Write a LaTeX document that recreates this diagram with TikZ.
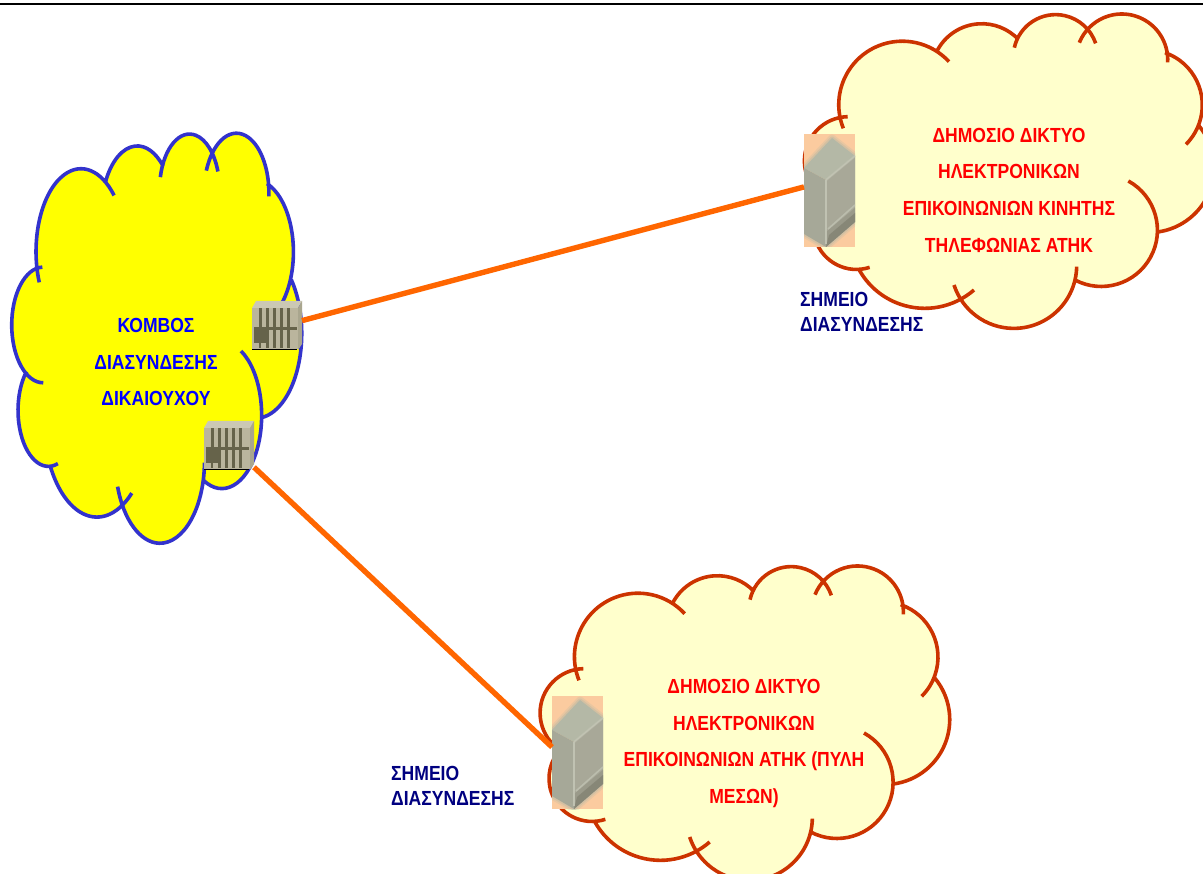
\documentclass[tikz,border=0pt]{standalone}
\usepackage{fontspec}
\setmainfont{Liberation Sans}
\newfontfamily\cloudfont[FakeStretch=0.86,Scale=1.0]{Liberation Sans}
\definecolor{blueedge}{HTML}{3333CC}
\definecolor{rededge}{HTML}{CC3300}
\definecolor{fullyellow}{HTML}{FFFF00}
\definecolor{textblue}{HTML}{0000FF}
\definecolor{textred}{HTML}{FF0000}
\definecolor{paleyellow}{HTML}{FFFFCC}
\definecolor{linkorange}{HTML}{FF6600}
\definecolor{labelnavy}{HTML}{000080}
\definecolor{srvbody}{HTML}{BAB59D}
\definecolor{srvdark}{HTML}{66634A}
\definecolor{srvtop}{HTML}{CBC8B4}
\definecolor{srvside}{HTML}{A9A68E}
\definecolor{peach}{HTML}{FBCB9F}
\definecolor{cabtop}{HTML}{B4B8A6}
\definecolor{cableft}{HTML}{A6A898}
\definecolor{cabright}{HTML}{A8A898}
\definecolor{cabdark}{HTML}{808070}
\definecolor{cabedge}{HTML}{C4C6B6}
\tikzset{
  srvbox/.style={minimum width=50pt,minimum height=49pt,inner sep=0pt,outer sep=0pt},
  bigbox/.style={minimum width=51pt,minimum height=113pt,inner sep=0pt,outer sep=0pt,fill=peach},
  link/.style={draw=linkorange,line width=5.4pt},
  cloudtext/.style={align=center,font=\cloudfont\bfseries\fontsize{20.4}{36.7}\selectfont,inner sep=0pt},
  pointlabel/.style={align=left,anchor=north west,text=labelnavy,inner sep=0pt,font=\cloudfont\bfseries\fontsize{20.4}{25}\selectfont},
}
% one lobe of the cloud: the circular arc through start, middle and end point
\newcommand\makelobe[7]{%
  \pgfmathsetmacro\lbbx{(#4-#2)/100}%
  \pgfmathsetmacro\lbby{(#5-#3)/100}%
  \pgfmathsetmacro\lbcx{(#6-#2)/100}%
  \pgfmathsetmacro\lbcy{(#7-#3)/100}%
  \pgfmathsetmacro\lbbb{\lbbx*\lbbx+\lbby*\lbby}%
  \pgfmathsetmacro\lbcc{\lbcx*\lbcx+\lbcy*\lbcy}%
  \pgfmathsetmacro\lbdd{2*(\lbbx*\lbcy-\lbby*\lbcx)}%
  \pgfmathsetmacro\lbux{(\lbcy*\lbbb-\lbby*\lbcc)/\lbdd}%
  \pgfmathsetmacro\lbuy{(\lbbx*\lbcc-\lbcx*\lbbb)/\lbdd}%
  \pgfmathsetmacro\lbrr{100*sqrt(\lbux*\lbux+\lbuy*\lbuy)}%
  \pgfmathsetmacro\lbsa{atan2(-\lbuy,-\lbux)}%
  \pgfmathsetmacro\lbea{atan2(\lbcy-\lbuy,\lbcx-\lbux)}%
  \pgfmathsetmacro\lbda{mod(\lbea-\lbsa+720,360)}%
  \expandafter\edef\csname lobeS#1\endcsname{(#2,#3) arc[start angle=\lbsa,delta angle=\lbda,radius=\lbrr]}%
  \expandafter\edef\csname lobeF#1\endcsname{-- (#2,#3) arc[start angle=\lbsa,delta angle=\lbda,radius=\lbrr]}}
\makelobe{A}{190}{385}{270}{150}{507}{185}
\makelobe{B}{470}{155}{590}{72}{715}{118}
\makelobe{C}{703}{143}{810}{45}{947}{130}
\makelobe{D}{898}{128}{1030}{42}{1163}{187}
\makelobe{E}{1155}{158}{1265}{290}{1218}{433}
\makelobe{F}{1258}{379}{1301}{524}{1133}{696}
\makelobe{G}{1045}{543}{1100}{790}{885}{840}
\makelobe{H}{890}{800}{710}{985}{522}{855}
\makelobe{I}{582}{870}{430}{925}{235}{805}
\makelobe{J}{269}{802}{108}{724}{136}{590}
\makelobe{K}{207}{616}{76}{510}{203}{350}
\newcommand\drawcloud[2]{%
  \fill[#1] (190,385) \lobeFA \lobeFB \lobeFC \lobeFD \lobeFE \lobeFF \lobeFG \lobeFH \lobeFI \lobeFJ \lobeFK -- cycle;
  \draw[#2,line cap=butt,line join=round] \lobeSA \lobeSB \lobeSC \lobeSD \lobeSE \lobeSF \lobeSG \lobeSH \lobeSI \lobeSJ \lobeSK;}
% small rack icon: #1 name, #2 centre x, #3 centre y
\newcommand\smallsrv[3]{%
  \node[srvbox] (#1) at (#2,#3) {};
  \begin{scope}[shift={(#2-25,#3-24.5)},x=1pt,y=-1pt]
    \fill[srvbody] (0,7) rectangle (46,48);
    \fill[srvtop] (0,7) -- (4,0) -- (50,0) -- (46,7) -- cycle;
    \fill[srvside] (46,7) -- (50,0) -- (50,43) -- (46,49) -- cycle;
    \foreach \sx in {7,14,21,28,35}{\fill[srvdark] (\sx,7) rectangle (\sx+3.4,47);}
    \fill[srvdark] (2,26) rectangle (45,29);
    \fill[srvdark] (2,29) rectangle (17,42);
    \fill[srvbody] (9,42) rectangle (13,47);
    \draw[black,line width=1pt] (0,48.3) -- (45,48.3);
  \end{scope}}
% large blurred cabinet: #1 name, #2 centre x, #3 centre y
\newcommand\bigsrv[3]{%
  \node[bigbox] (#1) at (#2,#3) {};
  \begin{scope}
    \clip (#1.south west) rectangle (#1.north east);
    \begin{scope}[shift={(#1.north west)},x=1pt,y=-1pt,line join=round]
      \draw[cabtop,line width=7pt,opacity=.25] (0,34) -- (28,4) -- (51,22) -- (51,88) -- (22,113) -- (0,100) -- cycle;
      \draw[cabtop,line width=3.5pt,opacity=.4] (0,34) -- (28,4) -- (51,22) -- (51,88) -- (22,113) -- (0,100) -- cycle;
      \fill[cabtop] (0,34) -- (28,4) -- (51,22) -- (22,46) -- cycle;
      \fill[cableft] (0,34) -- (22,46) -- (22,113) -- (0,100) -- cycle;
      \fill[cabright] (22,46) -- (51,22) -- (51,88) -- (22,113) -- cycle;
      \fill[cabdark,opacity=.35] (22,98) -- (51,74) -- (51,88) -- (22,113) -- cycle;
      \fill[cabdark,opacity=.7] (25,101) -- (51,79) -- (51,88) -- (22,113) -- cycle;
      \draw[cabedge,line width=2.4pt,opacity=.45] (22,46) -- (22,110);
      \draw[cabedge,line width=1.1pt,opacity=.8] (22,46) -- (22,110);
      \draw[cabedge,line width=2.4pt,opacity=.45] (22,46) -- (51,22);
      \draw[cabedge,line width=1.1pt,opacity=.8] (22,46) -- (51,22);
      \draw[cabedge,line width=1.6pt,opacity=.7] (24,95) -- (51,71);
    \end{scope}
  \end{scope}}
\begin{document}
\begin{tikzpicture}[x=1pt,y=-1pt]
\useasboundingbox (0,0) rectangle (1203,874);
\clip (0,0) rectangle (1203,874);
\fill[white] (0,0) rectangle (1203,874);
\coordinate (ruleL) at (0,3.8);
\coordinate (ruleR) at (1203,3.8);
\draw[black,line width=1.9pt] (ruleL) -- (ruleR);
\begin{scope}[shift={(-5.57,115)},x=0.236pt,y=-0.4347pt]
  \drawcloud{fullyellow}{blueedge,line width=3.6pt}
\end{scope}
\begin{scope}[shift={(780,0)},x=0.33333pt,y=-0.33333pt]
  \drawcloud{paleyellow}{rededge,line width=3.6pt}
\end{scope}
\begin{scope}[shift={(515.67,552)},x=0.33333pt,y=-0.33333pt]
  \drawcloud{paleyellow}{rededge,line width=3.6pt}
\end{scope}
\smallsrv{srvA}{277}{325.5}
\smallsrv{srvB}{229}{445.5}
\bigsrv{cabR}{829.5}{190.5}
\bigsrv{cabB}{577.5}{752.5}
\draw[link] (srvA.11) -- (cabR.172);
\draw[link] (srvB.-41) -- (cabB.168);
\node[cloudtext,text=textblue] (tL) at (156,362) {ΚΟΜΒΟΣ\\ΔΙΑΣΥΝΔΕΣΗΣ\\ΔΙΚΑΙΟΥΧΟΥ};
\node[cloudtext,text=textred] (tR) at (1009,190) {ΔΗΜΟΣΙΟ ΔΙΚΤΥΟ\\ΗΛΕΚΤΡΟΝΙΚΩΝ\\ΕΠΙΚΟΙΝΩΝΙΩΝ ΚΙΝΗΤΗΣ\\ΤΗΛΕΦΩΝΙΑΣ ΑΤΗΚ};
\node[cloudtext,text=textred] (tB) at (744,743.5) {ΔΗΜΟΣΙΟ ΔΙΚΤΥΟ\\ΗΛΕΚΤΡΟΝΙΚΩΝ\\ΕΠΙΚΟΙΝΩΝΙΩΝ ΑΤΗΚ (ΠΥΛΗ\\ΜΕΣΩΝ)};
\node[pointlabel] (pR) at (800,292) {ΣΗΜΕΙΟ\\ΔΙΑΣΥΝΔΕΣΗΣ};
\node[pointlabel] (pB) at (391,766) {ΣΗΜΕΙΟ\\ΔΙΑΣΥΝΔΕΣΗΣ};
\end{tikzpicture}
\end{document}
